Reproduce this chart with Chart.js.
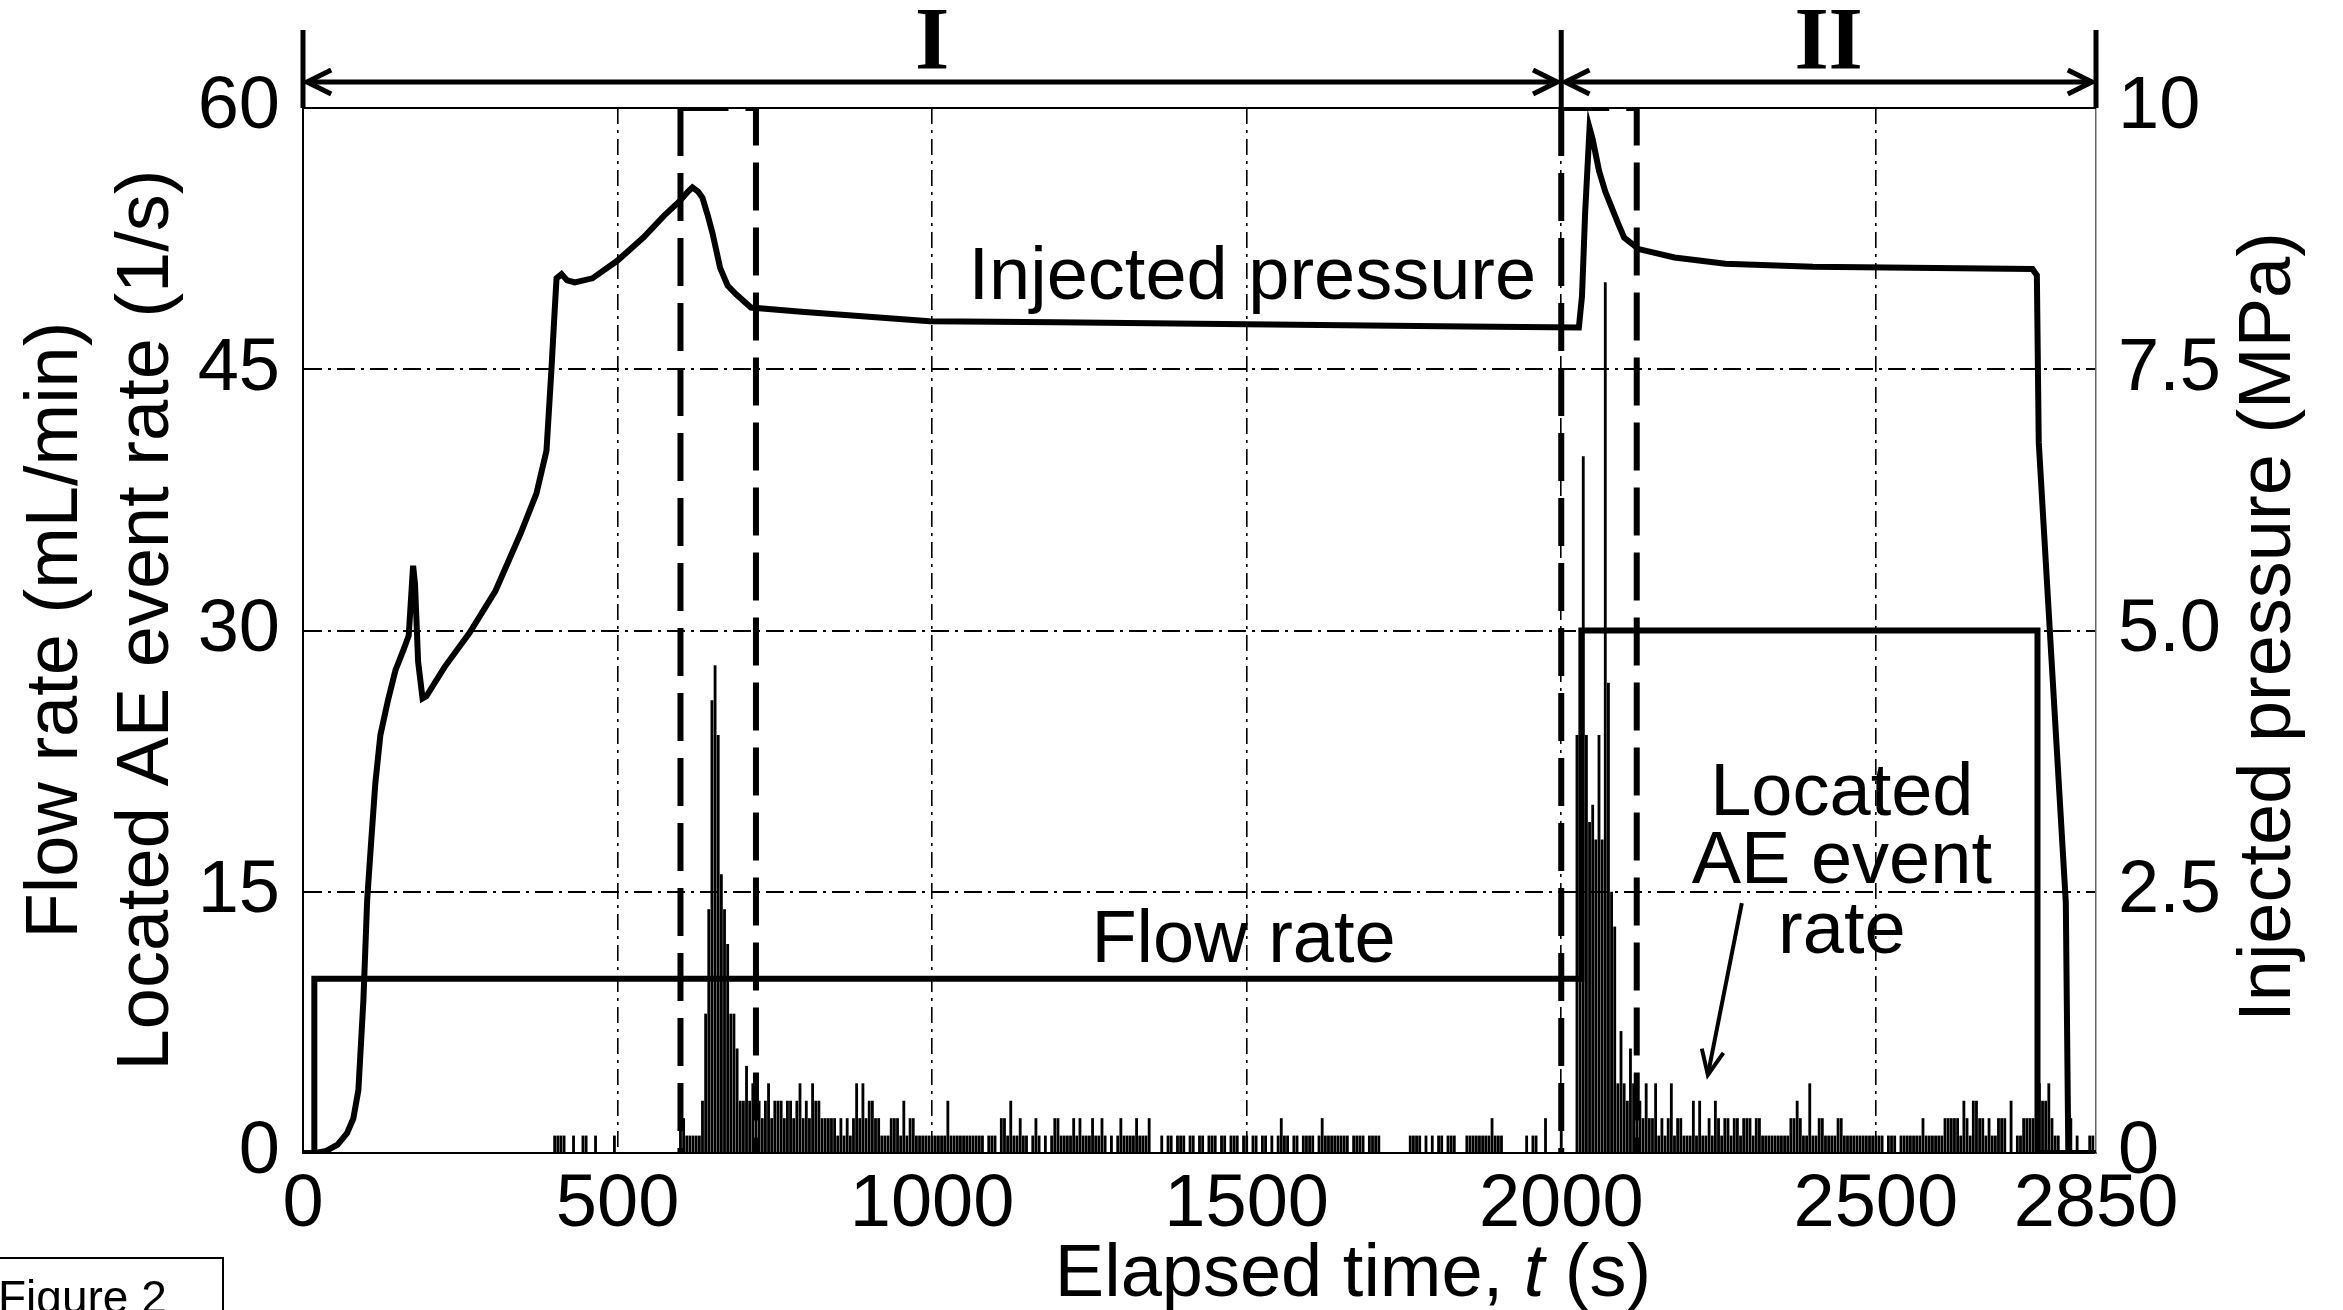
<!DOCTYPE html>
<html>
<head>
<meta charset="utf-8">
<script src="https://cdn.jsdelivr.net/npm/chart.js@4.4.1/dist/chart.umd.min.js"></script>
<style>
  html, body { margin: 0; padding: 0; background: #fff; }
  #wrap { width: 2343px; height: 1310px; }
</style>
</head>
<body>
<div id="wrap"><canvas id="chart" width="2343" height="1310"></canvas></div>
<script>
// ---- data ----

// injected pressure (MPa), right axis
const pressureTime = [0, 20, 37, 55, 70, 80, 88, 96, 102, 108,
  115, 123, 135, 147, 160, 168, 175, 178, 183, 190,
  196, 225, 265, 306, 346, 371, 387, 395, 399, 403,
  411, 420, 432, 460, 500, 541, 574, 599, 612, 619,
  628, 635, 643, 651, 663, 675, 688, 712, 792, 996,
  1198, 1500, 1849, 2028, 2033, 2038, 2045, 2050, 2060, 2070,
  2078, 2090, 2100, 2123, 2180, 2261, 2400, 2749, 2756, 2759,
  2802, 2806, 2850];
const pressureMPa = [0, 0, 0.02, 0.08, 0.19, 0.33, 0.6, 1.46, 2.42, 2.95,
  3.54, 4.0, 4.33, 4.62, 4.82, 4.95, 5.62, 5.45, 4.7, 4.35,
  4.37, 4.65, 4.98, 5.38, 5.93, 6.31, 6.72, 7.51, 7.95, 8.37,
  8.41, 8.35, 8.33, 8.37, 8.54, 8.76, 8.97, 9.11, 9.2, 9.24,
  9.2, 9.14, 8.98, 8.8, 8.47, 8.3, 8.22, 8.09, 8.05, 7.96,
  7.95, 7.93, 7.91, 7.9, 8.2, 9.0, 9.81, 9.7, 9.4, 9.2,
  9.08, 8.9, 8.76, 8.65, 8.57, 8.51, 8.48, 8.46, 8.4, 6.8,
  2.4, 0, 0];

// flow rate (mL/min), left axis
const flowTime = [0, 18, 18, 2032, 2032, 2757, 2757, 2850];
const flowRate = [0, 0, 10, 10, 30, 30, 0, 0];

// located AE event rate (1/s), 5 s bins from t = 400 s
const aeBinStart = 400;
const aeBinWidth = 5;
const aeRate = [
  1,1,1,1,0,0,1,0,0,1,1,0,0,1,0,0,0,0,0,1,
  0,0,0,0,0,0,0,0,0,0,0,0,0,0,0,0,0,0,0,0,
  2,2,1,1,1,1,1,3,8,14,26,28,24,16,14,12,8,8,6,3,
  3,5,3,4,4,3,2,3,4,2,3,3,3,2,3,3,2,3,4,2,
  3,2,4,3,3,2,2,2,2,2,1,2,1,2,1,2,4,2,4,2,
  3,3,2,2,1,1,1,2,2,2,1,3,1,2,2,1,1,1,1,1,
  1,1,1,1,1,3,1,1,1,1,1,1,1,1,1,1,1,0,1,1,
  1,0,2,2,1,3,1,1,2,1,1,0,1,2,1,0,1,0,1,2,
  2,1,1,1,1,2,1,2,1,1,1,2,1,1,2,1,0,1,0,1,
  2,1,1,1,1,2,1,1,1,2,0,0,0,1,0,1,1,0,1,1,
  1,0,1,1,0,1,1,0,1,1,1,0,1,1,0,1,1,1,0,1,
  1,0,1,1,0,1,1,0,1,0,1,2,1,1,0,1,1,0,1,1,
  1,1,0,1,2,1,1,1,1,1,1,1,1,0,1,1,1,1,0,1,
  1,1,1,0,0,0,0,0,0,0,0,0,1,1,1,1,0,1,0,1,
  0,1,1,0,1,1,1,0,0,0,1,1,1,1,1,1,1,1,2,1,
  1,1,0,0,0,0,0,0,0,1,0,1,1,0,0,2,0,0,0,0,
  2,0,0,0,0,24,24,40,24,19,20,18,24,18,50,27,15,13,4,7,
  4,3,6,4,4,3,2,4,2,2,4,1,2,1,2,4,1,2,2,1,
  1,1,3,1,3,1,1,2,1,3,2,1,2,2,1,2,2,1,2,2,
  2,1,2,2,1,1,1,1,1,1,1,1,1,2,2,3,2,1,1,4,
  1,1,2,2,1,1,1,1,2,2,1,1,1,1,1,1,1,1,1,1,
  1,1,1,0,1,1,1,0,1,1,1,1,1,1,1,2,1,1,1,1,
  1,1,2,2,2,2,2,1,3,2,1,3,3,2,2,1,2,1,1,2,
  2,2,0,3,0,1,1,2,2,2,2,0,4,3,3,4,2,1,1,0,
  0,2,2,0,1,0,0,0,1,1
];

// axes
const xTicks = [0, 500, 1000, 1500, 2000, 2500, 2850];
const leftTicks = [0, 15, 30, 45, 60];
const rightTicks = [0, 2.5, 5, 7.5, 10];
const rightTickLabels = ['0', '2.5', '5.0', '7.5', '10'];

// dashed windows and test periods
const windows = [[600, 720], [2000, 2120]];
const periods = [0, 2000, 2850];
const periodNames = ['I', 'II'];

const SANS = '"Liberation Sans", Arial, Helvetica, sans-serif';
const SERIF = '"Liberation Serif", "Times New Roman", serif';
Chart.defaults.font.family = SANS;
Chart.defaults.color = '#000';

const aeData = aeRate.map((v, i) => ({ x: aeBinStart + i * aeBinWidth, y: v }));
const pressureData = pressureTime.map((t, i) => ({ x: t, y: pressureMPa[i] }));
const flowData = flowTime.map((t, i) => ({ x: t, y: flowRate[i] }));

const yTop = leftTicks[leftTicks.length - 1];
const windowSets = [];
windows.forEach(([a, b]) => {
  windowSets.push({ type: 'line', data: [{ x: a, y: yTop }, { x: a, y: 0 }] });
  windowSets.push({ type: 'line', data: [{ x: a, y: yTop }, { x: b, y: yTop }, { x: b, y: 0 }] });
});
windowSets.forEach(d => Object.assign(d, {
  yAxisID: 'y', borderColor: '#000', borderWidth: 6, borderDash: [48, 17],
  pointRadius: 0, fill: false, tension: 0, order: 1
}));

function arrowHead(ctx, x, y, angle, len, spread) {
  ctx.beginPath();
  ctx.moveTo(x - len * Math.cos(angle - spread), y - len * Math.sin(angle - spread));
  ctx.lineTo(x, y);
  ctx.lineTo(x - len * Math.cos(angle + spread), y - len * Math.sin(angle + spread));
  ctx.stroke();
}

function vText(ctx, s, x, y) {
  ctx.save();
  ctx.translate(x, y);
  ctx.rotate(-Math.PI / 2);
  ctx.fillText(s, 0, 0);
  ctx.restore();
}

// labels, arrows and frame pieces drawn over the plot
const annotate = {
  id: 'annotate',
  afterDraw(chart) {
    const { ctx, chartArea: a } = chart;
    const sx = chart.scales.x, sy = chart.scales.y, sp = chart.scales.y1;
    ctx.save();
    ctx.fillStyle = '#000';
    ctx.strokeStyle = '#000';
    ctx.lineCap = 'butt';

    // top edge of frame
    ctx.lineWidth = 2;
    ctx.beginPath(); ctx.moveTo(a.left, a.top); ctx.lineTo(a.right, a.top); ctx.stroke();

    // period brackets
    const barTop = a.top - 78, arrowY = a.top - 26;
    ctx.lineWidth = 5;
    periods.forEach(p => {
      const px = sx.getPixelForValue(p);
      ctx.beginPath(); ctx.moveTo(px, barTop); ctx.lineTo(px, a.top); ctx.stroke();
    });
    ctx.font = 'bold 88px ' + SERIF;
    ctx.textAlign = 'center';
    ctx.textBaseline = 'alphabetic';
    for (let i = 0; i < periodNames.length; i++) {
      const x0 = sx.getPixelForValue(periods[i]) + 4;
      const x1 = sx.getPixelForValue(periods[i + 1]) - 4;
      ctx.lineWidth = 5;
      ctx.beginPath(); ctx.moveTo(x0, arrowY); ctx.lineTo(x1, arrowY); ctx.stroke();
      arrowHead(ctx, x0, arrowY, Math.PI, 27, 0.46);
      arrowHead(ctx, x1, arrowY, 0, 27, 0.46);
      ctx.fillText(periodNames[i], (x0 + x1) / 2, a.top - 40);
    }

    // in-plot labels
    ctx.font = '74px ' + SANS;
    ctx.fillText('Injected pressure', sx.getPixelForValue(1509), sp.getPixelForValue(8.17));
    ctx.fillText('Flow rate', sx.getPixelForValue(1495), sy.getPixelForValue(10.96));
    ctx.fillText('Located', sx.getPixelForValue(2446), sy.getPixelForValue(19.4));
    ctx.fillText('AE event', sx.getPixelForValue(2446), sy.getPixelForValue(15.5));
    ctx.fillText('rate', sx.getPixelForValue(2446), sy.getPixelForValue(11.5));

    // arrow to the AE bars
    const ax0 = sx.getPixelForValue(2287), ay0 = sy.getPixelForValue(14.35);
    const ax1 = sx.getPixelForValue(2233), ay1 = sy.getPixelForValue(4.48);
    ctx.lineWidth = 4;
    ctx.beginPath(); ctx.moveTo(ax0, ay0); ctx.lineTo(ax1, ay1); ctx.stroke();
    arrowHead(ctx, ax1, ay1, Math.atan2(ay1 - ay0, ax1 - ax0), 27, 0.42);

    // axis titles
    ctx.font = '74px ' + SANS;
    ctx.textAlign = 'center';
    vText(ctx, 'Flow rate (mL/min)', 77, 630);
    vText(ctx, 'Located AE event rate (1/s)', 168, 620);
    vText(ctx, 'Injected pressure (MPa)', 2290, 627);

    const p1 = 'Elapsed time, ', p2 = 't', p3 = ' (s)';
    const fN = '74px ' + SANS, fI = 'italic 74px ' + SANS;
    ctx.font = fN; const w1 = ctx.measureText(p1).width, w3 = ctx.measureText(p3).width;
    ctx.font = fI; const w2 = ctx.measureText(p2).width;
    let tx = 1353 - (w1 + w2 + w3) / 2;
    ctx.textAlign = 'left';
    ctx.font = fN; ctx.fillText(p1, tx, 1296); tx += w1;
    ctx.font = fI; ctx.fillText(p2, tx, 1296); tx += w2;
    ctx.font = fN; ctx.fillText(p3, tx, 1296);

    // figure tag
    ctx.lineWidth = 2;
    ctx.strokeRect(-2, 1258, 225, 70);
    ctx.font = '46px ' + SANS;
    ctx.fillText('Figure 2', -2, 1313);
    ctx.restore();
  }
};

const gridDash = [16, 6, 3, 6];

new Chart(document.getElementById('chart'), {
  type: 'bar',
  data: {
    datasets: [
      {
        type: 'line', label: 'Injected pressure', data: pressureData, yAxisID: 'y1',
        borderColor: '#000', borderWidth: 6, pointRadius: 0, fill: false, tension: 0, order: 0
      },
      {
        type: 'line', label: 'Flow rate', data: flowData, yAxisID: 'y',
        borderColor: '#000', borderWidth: 6, pointRadius: 0, fill: false, tension: 0, order: 0
      },
      ...windowSets,
      {
        type: 'bar', label: 'Located AE event rate', data: aeData, yAxisID: 'y',
        backgroundColor: '#000', borderWidth: 0, barPercentage: 1, categoryPercentage: 0.9, order: 2
      }
    ]
  },
  options: {
    responsive: false,
    animation: false,
    devicePixelRatio: 1,
    layout: { padding: { top: 108, left: 0, right: 0, bottom: 0 } },
    plugins: { legend: { display: false }, tooltip: { enabled: false } },
    scales: {
      x: {
        type: 'linear', min: 0, max: 2850, offset: false,
        afterBuildTicks: s => { s.ticks = xTicks.map(v => ({ value: v })); },
        afterFit: s => { s.height = 157; },
        ticks: {
          autoSkip: false, maxRotation: 0, padding: 8, color: '#000',
          font: { size: 74 }, callback: v => String(v)
        },
        grid: {
          offset: false, drawTicks: false, lineWidth: 1.6,
          color: c => (c.tick && (c.tick.value === 0 || c.tick.value === 2850)) ? 'rgba(0,0,0,0)' : '#000'
        },
        border: { display: true, color: '#000', width: 2, dash: gridDash }
      },
      y: {
        type: 'linear', position: 'left', min: 0, max: 60,
        afterBuildTicks: s => { s.ticks = leftTicks.map(v => ({ value: v })); },
        afterFit: s => { s.width = 303; },
        ticks: { padding: 23, color: '#000', font: { size: 74 }, callback: v => String(v) },
        grid: {
          drawTicks: false, lineWidth: 2,
          color: c => (c.tick && (c.tick.value === 0 || c.tick.value === 60)) ? 'rgba(0,0,0,0)' : '#000'
        },
        border: { display: true, color: '#000', width: 2, dash: [18, 6, 3, 6] }
      },
      y1: {
        type: 'linear', position: 'right', min: 0, max: 10,
        afterBuildTicks: s => { s.ticks = rightTicks.map(v => ({ value: v })); },
        afterFit: s => { s.width = 247; },
        ticks: {
          padding: 22, color: '#000', font: { size: 74 },
          callback: (v, i) => rightTickLabels[i]
        },
        grid: { display: false, drawTicks: false },
        border: { display: true, color: '#666', width: 1.5 }
      }
    }
  },
  plugins: [annotate]
});
</script>
</body>
</html>
